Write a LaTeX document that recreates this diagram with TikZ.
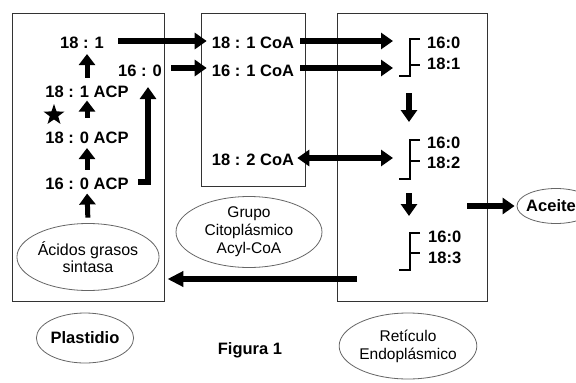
\documentclass[tikz,border=0pt]{standalone}
\usepackage{fontspec}
\setmainfont{Liberation Sans}
\usetikzlibrary{arrows.meta,shapes.geometric}
\begin{document}
\begin{tikzpicture}[x=1pt,y=-1pt,
  box/.style={draw=black!80,line width=0.9pt,inner sep=0pt,outer sep=0pt,anchor=north west},
  ell/.style={ellipse,draw=black!60,line width=0.8pt,inner sep=0pt,align=center},
  lbl/.style={font=\fontsize{16.5}{19}\selectfont\bfseries,inner sep=0pt},
  reg/.style={font=\fontsize{15.5}{18}\selectfont},
  regb/.style={font=\fontsize{16}{17}\selectfont},
  arr/.style={line width=5.2pt,-{Triangle[length=12pt,width=16pt]}},
  darr/.style={line width=5.2pt,{Triangle[length=12pt,width=16pt]}-{Triangle[length=12pt,width=16pt]}},
  uarr/.style={line width=5pt,-{Triangle[length=11pt,width=16pt]}},
  brk/.style={line width=2pt}]
\clip (0,0) rectangle (576,383);
\fill[white] (0,0) rectangle (576,383);
% boxes
\node[box,minimum width=152pt,minimum height=288pt] (plbox) at (12,13) {};
\node[box,minimum width=104pt,minimum height=173pt] (mibox) at (201,13) {};
\node[box,minimum width=150pt,minimum height=288pt] (erbox) at (337,13) {};
% plastid texts
\node[lbl] (n181) at (82,43) {18 : 1};
\node[lbl] (n160) at (140,71) {16 : 0};
\node[lbl] (a181) at (87,92) {18 : 1 ACP};
\node[lbl] (a180) at (87,138) {18 : 0 ACP};
\node[lbl] (a160) at (87,184) {16 : 0 ACP};
\node[star,star points=5,star point ratio=2.5,fill=black,inner sep=0pt,minimum size=22pt] (st) at (54,115) {};
\node[ell,regb,minimum width=116pt,minimum height=67pt] (fas) at (88,257) {Ácidos grasos\\sintasa};
\node[ell,lbl,minimum width=85pt,minimum height=50pt] (pla) at (85,338) {Plastidio};
% middle texts
\node[lbl] (c181) at (253,43) {18 : 1 CoA};
\node[lbl] (c161) at (253,71) {16 : 1 CoA};
\node[lbl] (c182) at (253,160) {18 : 2 CoA};
\node[ell,reg,minimum width=146pt,minimum height=71pt] (gca) at (249,232) {Grupo\\Citoplásmico\\Acyl-CoA};
\node[lbl] (fig) at (250,350) {Figura 1};
% ER texts
\node[lbl,anchor=west] (e1a) at (427,43) {16:0};
\node[lbl,anchor=west] (e1b) at (427,64) {18:1};
\node[lbl,anchor=west] (e2a) at (427,143) {16:0};
\node[lbl,anchor=west] (e2b) at (427,163) {18:2};
\node[lbl,anchor=west] (e3a) at (428,237) {16:0};
\node[lbl,anchor=west] (e3b) at (428,258) {18:3};
\node[ell,reg,minimum width=106pt,minimum height=66pt] (ret) at (408,346) {Retículo\\Endoplásmico};
\node[ell,lbl,minimum width=78pt,minimum height=35pt] (ace) at (556,206) {\hspace*{-10pt}Aceite};
% brackets
\draw[brk] (420,39) -- (410,39) -- (410,76) -- (399,76);
\draw[brk] (410,65) -- (420,65);
\draw[brk] (420,140) -- (410,140) -- (410,179) -- (399,179);
\draw[brk] (410,161) -- (420,161);
\draw[brk] (420,233) -- (410,233) -- (410,270) -- (399,270);
\draw[brk] (410,253) -- (420,253);
% plastid arrows
\draw[uarr,shorten <=8pt,shorten >=5pt] (a181.north) -- (n181.south -| a181.north);
\draw[uarr,shorten <=14pt,shorten >=2.5pt] (a180.north) -- (a181.south);
\draw[uarr,shorten <=8pt,shorten >=4pt] (a160.north) -- (a180.south);
\draw[uarr,shorten <=5.5pt,shorten >=3.5pt] (fas.north) -- (a160.south);
\draw[arr,line join=miter,shorten >=10pt] ([xshift=9pt,yshift=2pt]a160.east) -| ([xshift=8pt]n160.south);
% to cytoplasm
\draw[arr,shorten <=14pt,shorten >=5pt] ([yshift=2pt]n181.east) -- ([yshift=2pt]c181.west);
\draw[arr,shorten <=9pt,shorten >=5pt] ([yshift=3pt]n160.east) -- ([yshift=3pt]c161.west);
% to ER
\draw[arr,shorten <=6pt,shorten >=34pt] ([yshift=2pt]c181.east) -- ([yshift=2pt]c181.east -| e1a.west);
\draw[arr,shorten <=6pt,shorten >=34pt] ([yshift=3pt]c161.east) -- ([yshift=3pt]c161.east -| e1b.west);
\draw[darr,shorten <=3pt,shorten >=34pt] ([yshift=2pt]c182.east) -- ([yshift=2pt]c182.east -| e2b.west);
% ER down arrows
\draw[arr,shorten <=29pt,shorten >=21pt] ([xshift=-18pt]e1b.west) -- ([xshift=-18pt]e2a.west);
\draw[arr,shorten <=30pt,shorten >=21pt] ([xshift=-18pt]e2b.west) -- ([xshift=-19pt]e3a.west);
% to oil
\draw[arr,shorten >=2pt] ([xshift=-20pt]erbox.east |- ace.west) -- (ace.west);
% back to synthase
\coordinate (back) at (357,279);
\draw[arr,-{Triangle[length=16pt,width=15pt]},shorten >=8pt] (back) -- (back -| fas.east);
\end{tikzpicture}
\end{document}
